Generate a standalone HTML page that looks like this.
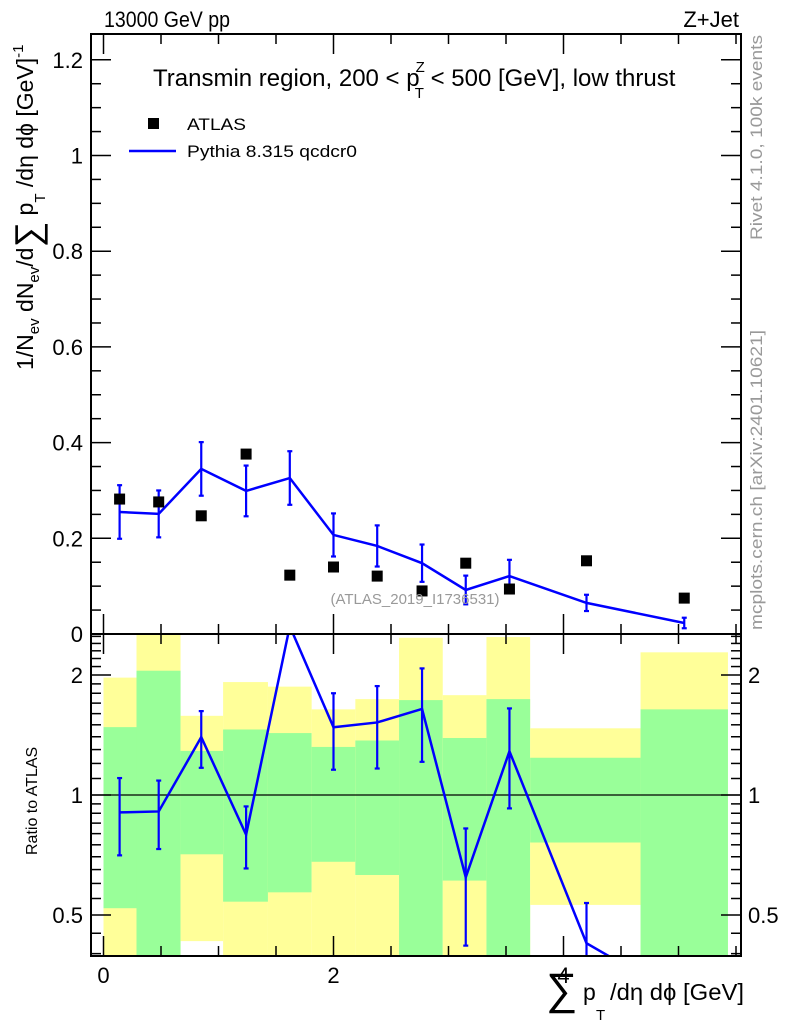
<!DOCTYPE html>
<html><head><meta charset="utf-8"><style>
html,body{margin:0;padding:0;background:#fff;}
svg{display:block;font-family:"Liberation Sans",sans-serif;}
</style></head><body>
<svg id="chart" width="786" height="1024" viewBox="0 0 786 1024" xmlns="http://www.w3.org/2000/svg">
<g id="ratio-bands"></g>
<g id="main-marks"></g>
<g id="ratio-marks"></g>
<g id="axes"></g>
<text x="104" y="27" font-size="22" textLength="126" lengthAdjust="spacingAndGlyphs">13000 GeV pp</text>
<text x="739" y="27" font-size="22" text-anchor="end">Z+Jet</text>
<text x="153" y="86" font-size="24">Transmin region, 200 &lt; p<tspan font-size="15" dy="-14" dx="-4">Z</tspan><tspan font-size="15" dy="26" dx="-10">T</tspan><tspan dy="-12"> &lt; 500 [GeV], low thrust</tspan></text>
<rect x="148" y="118" width="11" height="11" fill="#000"/>
<text x="187" y="130" font-size="17" textLength="59" lengthAdjust="spacingAndGlyphs">ATLAS</text>
<line x1="129" y1="151" x2="176" y2="151" stroke="#0000ff" stroke-width="2.5"/>
<text x="187" y="157" font-size="17" textLength="170" lengthAdjust="spacingAndGlyphs">Pythia 8.315 qcdcr0</text>
<text x="415" y="604" font-size="15" fill="#999" text-anchor="middle">(ATLAS_2019_I1736531)</text>
<text transform="translate(762,240) rotate(-90)" font-size="17" fill="#999" textLength="205" lengthAdjust="spacingAndGlyphs">Rivet 4.1.0,  100k events</text>
<text transform="translate(762,630) rotate(-90)" font-size="17" fill="#999" textLength="300" lengthAdjust="spacingAndGlyphs">mcplots.cern.ch [arXiv:2401.10621]</text>
<text transform="translate(33,370) rotate(-90)" font-size="23">1/N<tspan font-size="15" dy="6">ev</tspan><tspan dy="-6"> dN</tspan><tspan font-size="15" dy="6">ev</tspan><tspan dy="-6">/d</tspan><tspan font-size="36" dy="7">∑</tspan><tspan dy="-7"> p</tspan><tspan font-size="15" dy="12">T</tspan><tspan dy="-12"> /dη dϕ  [GeV]</tspan><tspan font-size="15" dy="-10">-1</tspan></text>
<text transform="translate(37,855) rotate(-90)" font-size="16">Ratio to ATLAS</text>
<text x="546" y="1004" font-size="44">∑</text>
<text x="583" y="1000" font-size="23">p</text>
<text x="596" y="1020" font-size="15">T</text>
<text x="610" y="1000" font-size="23" textLength="134" lengthAdjust="spacingAndGlyphs">/dη dϕ [GeV]</text>
</svg>
<script>
const binEdges=[0,0.287,0.67,1.04,1.43,1.81,2.19,2.57,2.95,3.33,3.71,4.67,5.43];
const xCenters=[0.14,0.48,0.85,1.24,1.62,2.0,2.38,2.77,3.15,3.53,4.2,5.05];
const atlasValues=[0.282,0.276,0.247,0.376,0.123,0.140,0.121,0.090,0.148,0.094,0.153,0.075];
const mcValues=[0.255,0.251,0.345,0.299,0.326,0.207,0.184,0.148,0.092,0.121,0.065,0.023];
const mcErrors=[0.056,0.049,0.056,0.053,0.056,0.045,0.043,0.039,0.030,0.034,0.017,0.011];
const greenLow=[0.52,0.3,0.71,0.54,0.57,0.68,0.63,0.3,0.61,0.3,0.76,0.3];
const greenHigh=[1.48,2.05,1.29,1.46,1.43,1.32,1.37,1.73,1.39,1.74,1.24,1.64];
const yellowLow=[0.3,0.3,0.43,0.3,0.3,0.3,0.3,0.3,0.3,0.3,0.53,0.3];
const yellowHigh=[1.97,3,1.58,1.92,1.87,1.64,1.74,2.48,1.78,2.49,1.47,2.28];
const mainYTicks=[0,0.2,0.4,0.6,0.8,1,1.2];
const mainYLabels=["0","0.2","0.4","0.6","0.8","1","1.2"];
const xTicks=[0,2,4];
const xLabels=["0","2","4"];
const ratioTicks=[0.5,1,2];
const ratioLabels=["0.5","1","2"];

const NS="http://www.w3.org/2000/svg";
const L=91,R=741,MT=34,MB=634,RT=634,RB=956;
const X=v=>103.5+v*115;
const Y=v=>634-v*478.5;
const RY=v=>795-120*Math.log2(v);
const clampR=v=>Math.max(RT,Math.min(RB,v));
function mk(tag,parent,attrs){const e=document.createElementNS(NS,tag);for(const k in attrs)e.setAttribute(k,attrs[k]);parent.appendChild(e);return e;}
const bands=document.getElementById('ratio-bands');
const mm=document.getElementById('main-marks');
const rm=document.getElementById('ratio-marks');
const ax=document.getElementById('axes');

for(let i=0;i<binEdges.length-1;i++){
  const x1=X(binEdges[i]),x2=X(binEdges[i+1]);
  let y1=clampR(RY(yellowHigh[i])),y2=clampR(RY(yellowLow[i]));
  const yb=mk('rect',bands,{x:x1,y:y1,width:x2-x1,height:y2-y1,fill:'#ffff99'});
  
  
  y1=clampR(RY(greenHigh[i]));y2=clampR(RY(greenLow[i]));
  const gb=mk('rect',bands,{x:x1,y:y1,width:x2-x1,height:y2-y1,fill:'#99ff99'});
  
  
}
const one=mk('line',bands,{x1:L,x2:R,y1:RY(1),y2:RY(1),stroke:'#000','stroke-width':1.2});



const mline=mk('polyline',mm,{points:xCenters.map((x,i)=>X(x)+','+Y(mcValues[i])).join(' '),fill:'none',stroke:'#0000ff','stroke-width':2.5});


xCenters.forEach((x,i)=>{
  const e=mk('g',mm,{stroke:'#0000ff','stroke-width':2.2});
  
  
  const a=Y(mcValues[i]+mcErrors[i]),b=Y(mcValues[i]-mcErrors[i]);
  mk('line',e,{x1:X(x),x2:X(x),y1:a,y2:b});
  mk('line',e,{x1:X(x)-2.5,x2:X(x)+2.5,y1:a,y2:a});
  mk('line',e,{x1:X(x)-2.5,x2:X(x)+2.5,y1:b,y2:b});
  const p=mk('rect',mm,{x:X(x)-5.5,y:Y(atlasValues[i])-5.5,width:11,height:11,fill:'#000'});
  
  
});

const cp=mk('clipPath',rm,{id:'rclip'});mk('rect',cp,{x:L,y:RT,width:R-L,height:RB-RT});
const rg=mk('g',rm,{'clip-path':'url(#rclip)'});
const ratios=xCenters.map((x,i)=>mcValues[i]/atlasValues[i]);
const rline=mk('polyline',rg,{points:xCenters.map((x,i)=>X(x)+','+RY(ratios[i])).join(' '),fill:'none',stroke:'#0000ff','stroke-width':2.5});


xCenters.forEach((x,i)=>{
  const re=mcErrors[i]/atlasValues[i];
  if(RY(ratios[i])<RT||RY(ratios[i])>RB)return;
  const e=mk('g',rg,{stroke:'#0000ff','stroke-width':2.2});
  
  
  const a=RY(ratios[i]+re),b=RY(Math.max(ratios[i]-re,0.01));
  mk('line',e,{x1:X(x),x2:X(x),y1:a,y2:b});
  mk('line',e,{x1:X(x)-2.5,x2:X(x)+2.5,y1:a,y2:a});
  mk('line',e,{x1:X(x)-2.5,x2:X(x)+2.5,y1:b,y2:b});
});

const f1=mk('rect',ax,{x:L,y:MT,width:R-L,height:MB-MT,fill:'none',stroke:'#000','stroke-width':2});


const f2=mk('rect',ax,{x:L,y:RT,width:R-L,height:RB-RT,fill:'none',stroke:'#000','stroke-width':2});


const tk={stroke:'#000','stroke-width':1.5};
for(let v=0;v<=1.25;v+=0.05){const y=Y(v);const major=Math.abs(v*5-Math.round(v*5))<1e-6;const len=major?20:10;
  mk('line',ax,Object.assign({x1:L,x2:L+len,y1:y,y2:y},tk));mk('line',ax,Object.assign({x1:R-len,x2:R,y1:y,y2:y},tk));}
mainYTicks.forEach((v,i)=>{const t=mk('text',ax,{x:L-8,y:Y(v)+8,'font-size':22,'text-anchor':'end'});t.textContent=mainYLabels[i];
  
  });
for(let v=0;v<=5.5;v+=0.5){const x=X(v);const major=v%2===0;const len=major?20:10;
  mk('line',ax,Object.assign({x1:x,x2:x,y1:MT,y2:MT+len},tk));mk('line',ax,Object.assign({x1:x,x2:x,y1:MB-len,y2:MB},tk));
  mk('line',ax,Object.assign({x1:x,x2:x,y1:RT,y2:RT+len},tk));mk('line',ax,Object.assign({x1:x,x2:x,y1:RB-len,y2:RB},tk));}
xTicks.forEach((v,i)=>{const t=mk('text',ax,{x:X(v),y:983,'font-size':22,'text-anchor':'middle'});t.textContent=xLabels[i];
  
  });
const rminor=[0.4,0.45,0.5,0.55,0.6,0.65,0.7,0.75,0.8,0.85,0.9,0.95,1,1.1,1.2,1.3,1.4,1.5,1.6,1.7,1.8,1.9,2,2.1,2.2,2.3,2.4,2.5];
rminor.forEach(v=>{const y=RY(v);if(y<RT||y>RB)return;const major=ratioTicks.includes(v);const len=major?20:10;
  mk('line',ax,Object.assign({x1:L,x2:L+len,y1:y,y2:y},tk));mk('line',ax,Object.assign({x1:R-len,x2:R,y1:y,y2:y},tk));});
ratioTicks.forEach((v,i)=>{
  const t=mk('text',ax,{x:L-8,y:RY(v)+8,'font-size':22,'text-anchor':'end'});t.textContent=ratioLabels[i];
  
  
  const t2=mk('text',ax,{x:R+7,y:RY(v)+8,'font-size':22});t2.textContent=ratioLabels[i];
  
  
});
</script>
</body></html>
